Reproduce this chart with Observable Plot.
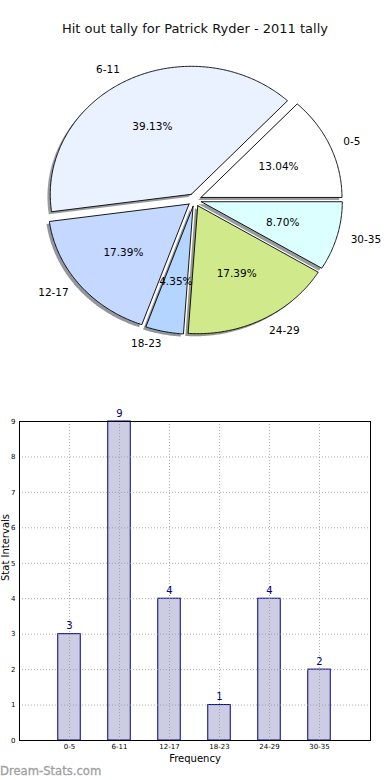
<!DOCTYPE html>
<html>
<head>
<meta charset="utf-8">
<script src="https://cdn.jsdelivr.net/npm/d3@7"></script>
<script src="https://cdn.jsdelivr.net/npm/@observablehq/plot@0.6"></script>
<style>
  html, body { margin: 0; padding: 0; background: #fff; }
  body { width: 390px; height: 780px; position: relative; overflow: hidden; font-family: "DejaVu Sans", sans-serif; }
  #title { position: absolute; left: 0; top: 21px; width: 390px; text-align: center; font-size: 13px; color: #111; }
  #pie { position: absolute; left: 0; top: 45px; }
  #bar { position: absolute; left: 0; top: 400px; }
  #wm { position: absolute; left: 0; top: 764px; font-size: 11.6px; color: #a0a0a0; font-weight: normal; -webkit-text-stroke: 0.3px #a0a0a0; }
</style>
</head>
<body>
<div id="title">Hit out tally for Patrick Ryder - 2011 tally</div>
<div id="pie"></div>
<div id="bar"></div>
<div id="wm">Dream-Stats.com</div>
<script>
// ---- data ----
const categories = ["0-5", "6-11", "12-17", "18-23", "24-29", "30-35"];
const counts = [3, 9, 4, 1, 4, 2];
const sliceColors = ["#ffffff", "#eaf1ff", "#c5d8ff", "#b3d5ff", "#d0ea8b", "#dcffff"];
const yTicks = [0, 1, 2, 3, 4, 5, 6, 7, 8, 9];

// ---- pie geometry (unit radius, counter-clockwise from east) ----
const total = d3.sum(counts);
const explode = 0.05;
let acc = 0;
const slices = counts.map((c, i) => {
  const a0 = acc / total * 2 * Math.PI;
  acc += c;
  const a1 = acc / total * 2 * Math.PI;
  const m = (a0 + a1) / 2;
  const cx = explode * Math.cos(m), cy = explode * Math.sin(m);
  return {i, cat: categories[i], c, a0, a1, m, cx, cy, color: sliceColors[i], pct: (c / total * 100).toFixed(2) + "%"};
});
const pts = [];
const shadowPts = [];
for (const s of slices) {
  const n = Math.max(2, Math.ceil((s.a1 - s.a0) / 0.01));
  const poly = [[s.cx, s.cy]];
  for (let k = 0; k <= n; k++) {
    const a = s.a0 + (s.a1 - s.a0) * k / n;
    poly.push([s.cx + Math.cos(a), s.cy + Math.sin(a)]);
  }
  poly.push([s.cx, s.cy]);
  const rgb = d3.rgb(s.color);
  const sh = d3.rgb(rgb.r * 0.3, rgb.g * 0.3, rgb.b * 0.3).formatHex();
  for (const [x, y] of poly) {
    pts.push({x, y, z: s.i, color: s.color});
    shadowPts.push({x: x - 0.02, y: y - 0.02, z: s.i, color: sh});
  }
}
const labels = slices.map(s => ({
  x: s.cx + 1.1 * Math.cos(s.m), y: s.cy + 1.1 * Math.sin(s.m), t: s.cat
}));
const pcts = slices.map(s => ({
  x: s.cx + 0.6 * Math.cos(s.m), y: s.cy + 0.6 * Math.sin(s.m), t: s.pct
}));

const PW = 390, PH = 350, rx = 141, ry = 128, ccx = 194, ccy = 154.5;
const pie = Plot.plot({
  width: PW, height: PH,
  margin: 0,
  style: {fontFamily: "DejaVu Sans, sans-serif", background: "transparent"},
  x: {domain: [-ccx / rx, (PW - ccx) / rx], axis: null},
  y: {domain: [-(PH - ccy) / ry, ccy / ry], axis: null},
  marks: [
    Plot.line(shadowPts, {x: "x", y: "y", z: "z", fill: "color", fillOpacity: 0.55, stroke: "none", curve: "linear"}),
    Plot.line(pts, {x: "x", y: "y", z: "z", fill: "color", stroke: "#000", strokeWidth: 0.9, curve: "linear", strokeLinejoin: "miter"}),
    Plot.text(labels.filter(d => d.x >= 0), {x: "x", y: "y", text: "t", textAnchor: "start", fontSize: 10.5, fill: "#000"}),
    Plot.text(labels.filter(d => d.x < 0), {x: "x", y: "y", text: "t", textAnchor: "end", fontSize: 10.5, fill: "#000"}),
    Plot.text(pcts, {x: "x", y: "y", text: "t", fontSize: 10.5, fill: "#000"})
  ]
});
document.getElementById("pie").appendChild(pie);

// ---- bar chart ----
const barData = categories.map((cat, i) => ({cat, pos: i + 1, v: counts[i]}));
const positions = barData.map(d => d.pos);
const bw = 0.225;
const bar = Plot.plot({
  width: 390, height: 380,
  marginTop: 21, marginBottom: 40, marginLeft: 19, marginRight: 20,
  style: {fontFamily: "DejaVu Sans, sans-serif", background: "transparent", color: "#000"},
  x: {type: "linear", domain: [0, 7.02]},
  y: {domain: [0, 9]},
  marks: [
    Plot.rectY(barData, {x1: d => d.pos - bw, x2: d => d.pos + bw, y1: 0, y2: "v", fill: "#ccccE2", stroke: "#000080", strokeWidth: 1}),
    Plot.gridX({ticks: positions, stroke: "#999", strokeOpacity: 0.8, strokeDasharray: "1,2"}),
    Plot.gridY({ticks: yTicks, stroke: "#999", strokeOpacity: 0.8, strokeDasharray: "1,2"}),
    Plot.frame({stroke: "#000", strokeWidth: 1}),
    Plot.axisX({ticks: positions, tickFormat: p => categories[p - 1], tickSize: 0, tickPadding: 4, fontSize: 7, label: null}),
    Plot.axisY({ticks: yTicks, tickFormat: d3.format("d"), tickSize: 0, tickPadding: 4, fontSize: 7, label: null}),
    Plot.text(barData, {x: "pos", y: "v", text: d => String(d.v), dy: -8, fill: "#000080", fontSize: 10}),
    Plot.text(["Frequency"], {frameAnchor: "bottom", dy: 21, fontSize: 10, fill: "#000"}),
    Plot.text(["Stat Intervals"], {frameAnchor: "left", dx: -14, rotate: -90, fontSize: 10, fill: "#000"})
  ]
});
document.getElementById("bar").appendChild(bar);
</script>
</body>
</html>
